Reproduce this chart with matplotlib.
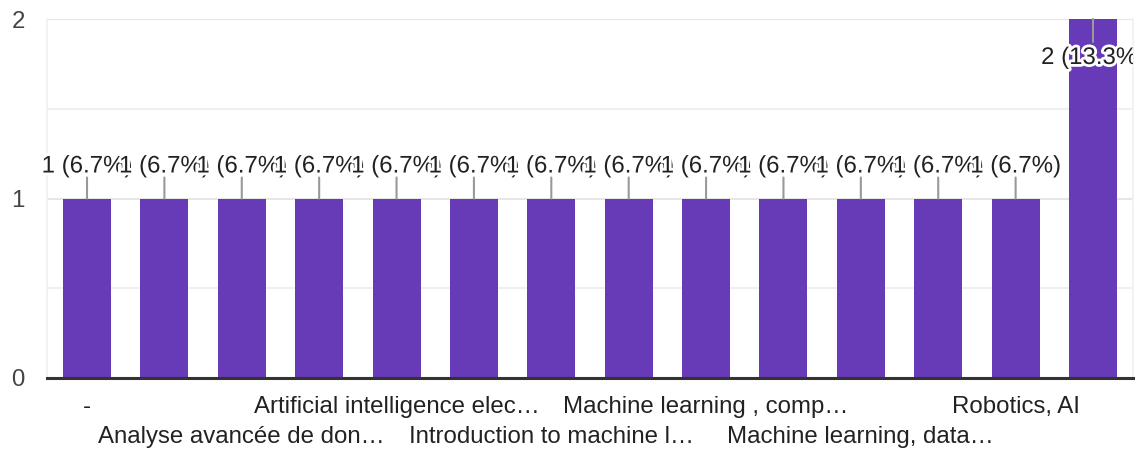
import matplotlib.pyplot as plt
import matplotlib.patheffects as pe
from matplotlib.transforms import Bbox, TransformedBbox

plt.rcParams['font.family'] = ['Liberation Sans', 'DejaVu Sans']

# responses per answer; only every other category name fits under the axis
TICK_LABELS = ['-', '', 'Analyse avancée de don…', '', 'Artificial intelligence elec…', '',
               'Introduction to machine l…', '', 'Machine learning , comp…', '',
               'Machine learning, data…', '', 'Robotics, AI', '']
COUNTS = [1, 1, 1, 1, 1, 1, 1, 1, 1, 1, 1, 1, 1, 2]
PERCENTS = [6.7, 6.7, 6.7, 6.7, 6.7, 6.7, 6.7, 6.7, 6.7, 6.7, 6.7, 6.7, 6.7, 13.3]
Y_TICKS = [0, 1, 2]

PURPLE = '#673ab7'
W, H = 1147, 454

fig = plt.figure(figsize=(W / 100, H / 100), dpi=100)
ax = fig.add_axes([47 / W, (H - 378) / H, (1133 - 47) / W, (378 - 19) / H])

x = list(range(len(COUNTS)))
ax.bar(x, COUNTS, width=0.62, color=PURPLE, zorder=2)

ax.set_xlim(-0.517, len(COUNTS) - 1 + 0.517)
ax.set_ylim(0, 2)
ax.set_yticks(Y_TICKS)
ax.set_yticks([0.5, 1.5], minor=True)
ax.set_yticklabels([str(t) for t in Y_TICKS], fontsize=17.3, color='#444444')
ax.tick_params(axis='y', which='both', length=0, pad=16)
ax.set_xticks([])
ax.grid(axis='y', which='major', color='#e6e6e6', linewidth=1.5, zorder=0)
ax.grid(axis='y', which='minor', color='#f0f0f0', linewidth=1.5, zorder=0)
for side in ['top']:
    ax.spines[side].set_visible(False)
for side in ['left', 'right']:
    ax.spines[side].set_color('#f0f0f0')
    ax.spines[side].set_linewidth(1.2)
ax.spines['bottom'].set_color('#333333')
ax.spines['bottom'].set_linewidth(2.2)
ax.spines['bottom'].set_zorder(3)

# staggered category labels
row = 0
for i, lab in enumerate(TICK_LABELS):
    if not lab:
        continue
    ax.annotate(lab, xy=(i, 0), xycoords=('data', 'axes fraction'),
                xytext=(0, -29 - 30 * row), textcoords='offset pixels',
                ha='center', va='center', fontsize=17.3, color='#222222',
                annotation_clip=False)
    row = 1 - row

# value labels with leader lines; clipped at the right edge of the plot
clip = TransformedBbox(Bbox([[0, 0], [1133 / W, 1]]), fig.transFigure)
top = max(COUNTS)
for i, (c, p) in enumerate(zip(COUNTS, PERCENTS)):
    if c < top:
        line_end, text_off = 21, 32
    else:
        line_end, text_off = -23, -39
    ax.annotate('', xy=(i, c), xytext=(0, line_end), textcoords='offset pixels',
                arrowprops=dict(arrowstyle='-', color='#999999', lw=1.5,
                                shrinkA=0, shrinkB=0),
                annotation_clip=False, zorder=4)
    t = ax.annotate(f'{c} ({p}%)', xy=(i, c), xytext=(0, text_off),
                    textcoords='offset pixels', ha='center', va='center',
                    fontsize=17.3, color='#222222', annotation_clip=False,
                    zorder=5,
                    path_effects=[pe.withStroke(linewidth=4, foreground='white')])
    t.set_clip_box(clip)
    t.set_clip_on(True)

fig.savefig('out.png', dpi=100)
